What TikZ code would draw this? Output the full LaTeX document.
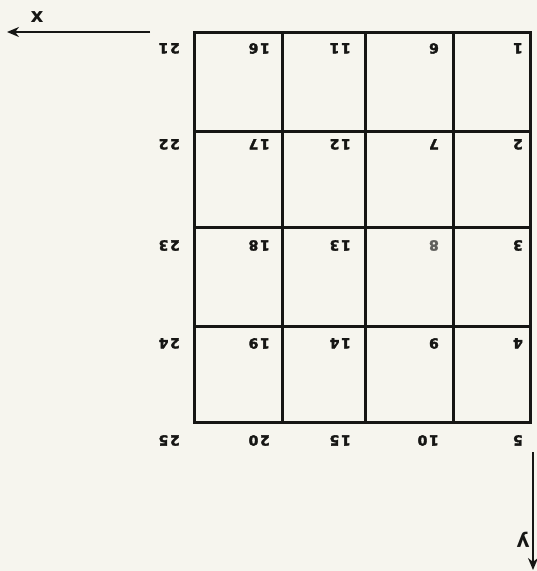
\documentclass[tikz,border=0pt]{standalone}
\usepackage{fontspec}
\setmainfont{DejaVu Sans}
\newfontfamily\numfont{DejaVu Sans Bold}[FakeBold=2.5, LetterSpace=12]
\usetikzlibrary{arrows.meta,positioning,calc}
\definecolor{inkBlack}{RGB}{22, 22, 20}
\definecolor{paperWhite}{RGB}{246, 245, 238}
\definecolor{dimGray}{RGB}{95, 95, 92}

\begin{document}
\begin{tikzpicture}[x=1pt, y=-1pt,
    gridline/.style={draw=inkBlack, line width=3pt, line cap=rect},
    ptlabel/.style={font=\numfont\fontsize{14pt}{14pt}\selectfont, rotate=180, inner sep=0pt, anchor=south west},
    axislabel/.style={font=\bfseries\fontsize{20pt}{20pt}\selectfont, text=inkBlack, inner sep=0pt},
    axisarrow/.style={draw=inkBlack, line width=2.6pt, -{Stealth[length=12pt, width=10pt]}}]
    % page
    \fill[paperWhite] (0,0) rectangle (537,571);
    \useasboundingbox (0,0) rectangle (537,571);
    % lattice points and their numbers
    \foreach \cx/\lx [count=\c] in {530/523, 453/439, 365/351, 282/270, 194/180}
        \foreach \ry/\ty [count=\r] in {32/43, 131/139, 227/240, 326/338, 422/435} {
            \pgfmathtruncatemacro{\n}{5*(\c-1)+\r}
            \ifnum\n=8 \def\lc{dimGray}\else\def\lc{inkBlack}\fi
            \coordinate (k\n) at (\cx,\ry);
            \node[ptlabel, text=\lc] (p\n) at (\lx,\ty) {\n};
        }
    % grid
    \draw[gridline] (k21) rectangle (k5);
    \foreach \a/\b in {16/20, 11/15, 6/10, 2/22, 3/23, 4/24}
        \draw[gridline] (k\a) -- (k\b);
    % axes
    \coordinate (xtail) at (150,32);
    \coordinate (xhead) at (7,32);
    \coordinate (ytail) at (533,452);
    \coordinate (yhead) at (533,570);
    \draw[axisarrow] (xtail) -- (xhead);
    \draw[axisarrow] (ytail) -- (yhead);
    \node[axislabel] (xlab) at (37,17) {x};
    \node[axislabel, rotate=180] (ylab) at (523,540) {y};
\end{tikzpicture}
\end{document}
